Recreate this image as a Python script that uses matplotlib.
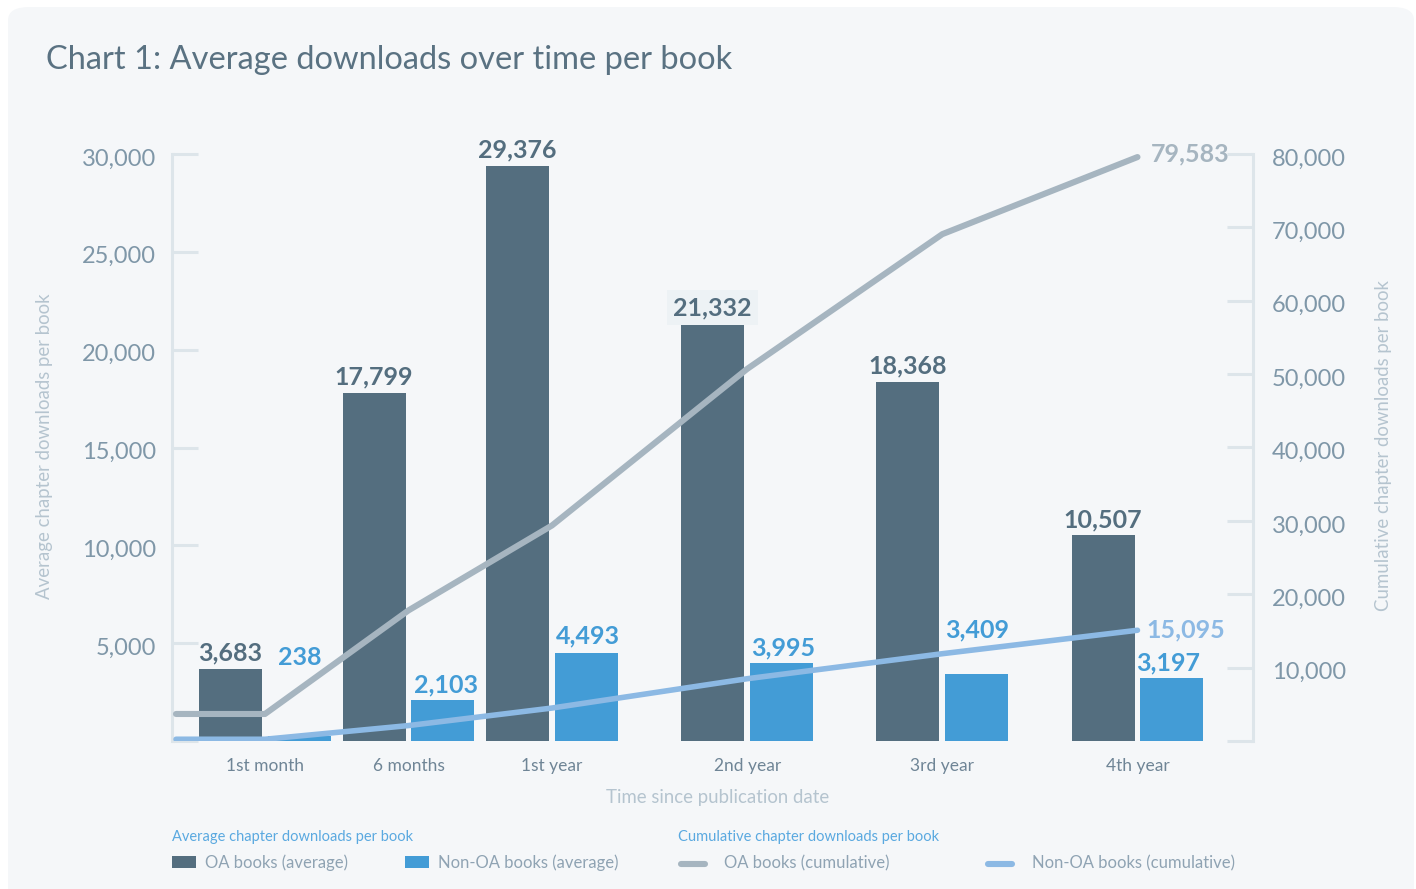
import numpy as np
import matplotlib.pyplot as plt
from matplotlib.patches import FancyBboxPatch, Rectangle
from matplotlib.lines import Line2D
from matplotlib.transforms import ScaledTranslation

plt.rcParams['font.family'] = ['Lato', 'DejaVu Sans']

# ---- data -------------------------------------------------------------
categories = ["1st month", "6 months", "1st year", "2nd year", "3rd year", "4th year"]
oa_avg = [3683, 17799, 29376, 21332, 18368, 10507]
non_oa_avg = [238, 2103, 4493, 3995, 3409, 3197]
oa_cum = [3683, 17799, 29376, 50708, 69076, 79583]
non_oa_cum = [238, 2103, 4493, 8488, 11897, 15095]
left_ticks = [0, 5000, 10000, 15000, 20000, 25000, 30000]
right_ticks = [0, 10000, 20000, 30000, 40000, 50000, 60000, 70000, 80000]

# ---- layout / style ---------------------------------------------------
W, H = 1416, 889
group_x = np.array([0, 1, 2, 3.36, 4.72, 6.08])
bar_w = 0.439
bar_off = 0.240
line_start = -0.62

C_BG = '#f5f7f9'
C_OA = '#546e7f'
C_NON = '#439cd6'
C_OA_LINE = '#a6b5c0'
C_NON_LINE = '#8cb9e4'
C_AXIS = '#dde5ea'
C_TICK = '#7f97a8'
C_SOFT = '#b5c4cf'
C_LEG = '#8fa3b3'


def fx(x):
    return x / W


def fy(y):
    return 1 - y / H


fig = plt.figure(figsize=(W / 100, H / 100), dpi=100, facecolor='white')

card = FancyBboxPatch((fx(8), fy(905)), fx(1406), fy(7) - fy(905),
                      boxstyle="round,pad=0,rounding_size=0.015",
                      transform=fig.transFigure, facecolor=C_BG, edgecolor='none',
                      zorder=-10)
fig.patches.append(card)

ax = fig.add_axes([fx(172), fy(741), fx(1253 - 172), fy(154) - fy(741)])
ax.set_facecolor('none')
ax2 = ax.twinx()

# bars
ax.bar(group_x - bar_off, oa_avg, width=bar_w, color=C_OA, zorder=2)
ax.bar(group_x + bar_off, non_oa_avg, width=bar_w, color=C_NON, zorder=2)

# cumulative lines
lx = np.concatenate([[line_start], group_x])
ax2.plot(lx, [oa_cum[0]] + oa_cum, color=C_OA_LINE, lw=4.4,
         solid_capstyle='round', solid_joinstyle='round', zorder=3)
ax2.plot(lx, [non_oa_cum[0]] + non_oa_cum, color=C_NON_LINE, lw=4.0,
         solid_capstyle='round', solid_joinstyle='round', zorder=3)

ax.set_xlim(-0.648, 6.885)
ax2.set_xlim(-0.648, 6.885)
ax.set_ylim(0, 30000)
ax2.set_ylim(0, 80000)

for a in (ax, ax2):
    for s in ('top', 'bottom'):
        a.spines[s].set_visible(False)
ax.spines['right'].set_visible(False)
ax2.spines['left'].set_visible(False)
ax.spines['left'].set_color(C_AXIS)
ax.spines['left'].set_linewidth(2.2)
ax2.spines['right'].set_color(C_AXIS)
ax2.spines['right'].set_linewidth(2.2)

ax.set_yticks(left_ticks)
ax.set_yticklabels(['' if v == 0 else f"{v:,}" for v in left_ticks])
ax2.set_yticks(right_ticks)
ax2.set_yticklabels(['' if v == 0 else f"{v:,}" for v in right_ticks])
ax.tick_params(axis='y', direction='in', length=18.7, width=2.2, color=C_AXIS,
               labelsize=17, labelcolor=C_TICK, pad=11.5)
ax2.tick_params(axis='y', direction='in', length=18.7, width=2.2, color=C_AXIS,
                labelsize=17, labelcolor=C_TICK, pad=13.5)

# nudge the numeric tick labels slightly below their tick marks
shift = ScaledTranslation(0, -3 / 100, fig.dpi_scale_trans)
for lab in ax.get_yticklabels() + ax2.get_yticklabels():
    lab.set_transform(lab.get_transform() + shift)

ax.set_xticks(group_x)
ax.set_xticklabels(categories)
ax.tick_params(axis='x', length=0, labelsize=12.5, labelcolor='#6f8596', pad=12)

# bar value labels
for x, v in zip(group_x - bar_off, oa_avg):
    box = None
    if v == 21332:
        box = dict(boxstyle='square,pad=0.25', facecolor='#edf2f5', edgecolor='none')
    ax.annotate(f"{v:,}", (x, v), xytext=(0, 11.5), textcoords='offset points',
                ha='center', va='center', fontsize=18, fontweight='bold',
                color=C_OA, zorder=5, bbox=box)

non_offsets = [57, 11, 12, 11, 32, 11.5]
non_dx = [0, 2, 1, 1, 0, -3]
for x, v, dy, dx in zip(group_x + bar_off, non_oa_avg, non_offsets, non_dx):
    ax.annotate(f"{v:,}", (x, v), xytext=(dx, dy), textcoords='offset points',
                ha='center', va='center', fontsize=18, fontweight='bold',
                color=C_NON, zorder=5)

ax2.annotate(f"{oa_cum[-1]:,}", (group_x[-1], oa_cum[-1]), xytext=(10, 2),
             textcoords='offset points', ha='left', va='center', fontsize=18,
             fontweight='bold', color=C_OA_LINE, zorder=5)
ax2.annotate(f"{non_oa_cum[-1]:,}", (group_x[-1], non_oa_cum[-1]), xytext=(6.5, 0),
             textcoords='offset points', ha='left', va='center', fontsize=18,
             fontweight='bold', color=C_NON_LINE, zorder=5)

# titles
fig.text(fx(46), fy(60), "Chart 1: Average downloads over time per book",
         fontsize=23.5, fontweight='normal', color='#5a7282', ha='left', va='center')
fig.text(fx(718), fy(798), "Time since publication date", fontsize=13.4,
         color=C_SOFT, ha='center', va='center')
fig.text(fx(45), fy(446), "Average chapter downloads per book", fontsize=13.4,
         color=C_SOFT, ha='center', va='center', rotation=90)
fig.text(fx(1383), fy(446), "Cumulative chapter downloads per book", fontsize=13.4,
         color=C_SOFT, ha='center', va='center', rotation=90)

# legend
fig.text(fx(172), fy(837), "Average chapter downloads per book", fontsize=10.5,
         color='#5aa9e0', ha='left', va='center')
fig.text(fx(678), fy(837), "Cumulative chapter downloads per book", fontsize=10.5,
         color='#5aa9e0', ha='left', va='center')

for x0, c in ((172, C_OA), (405, C_NON)):
    fig.patches.append(Rectangle((fx(x0), fy(868)), fx(24), fy(856) - fy(868),
                                 transform=fig.transFigure, facecolor=c,
                                 edgecolor='none'))
for x0, c in ((681, C_OA_LINE), (988, C_NON_LINE)):
    fig.lines.append(Line2D([fx(x0), fx(x0 + 24)], [fy(864), fy(864)],
                            transform=fig.transFigure, color=c, lw=4.4,
                            solid_capstyle='round'))

for x0, t in ((205, "OA books (average)"), (438, "Non-OA books (average)"),
              (724, "OA books (cumulative)"), (1032, "Non-OA books (cumulative)")):
    fig.text(fx(x0), fy(863), t, fontsize=12, color=C_LEG, ha='left', va='center')

fig.savefig('out.png', dpi=100, facecolor='white')
